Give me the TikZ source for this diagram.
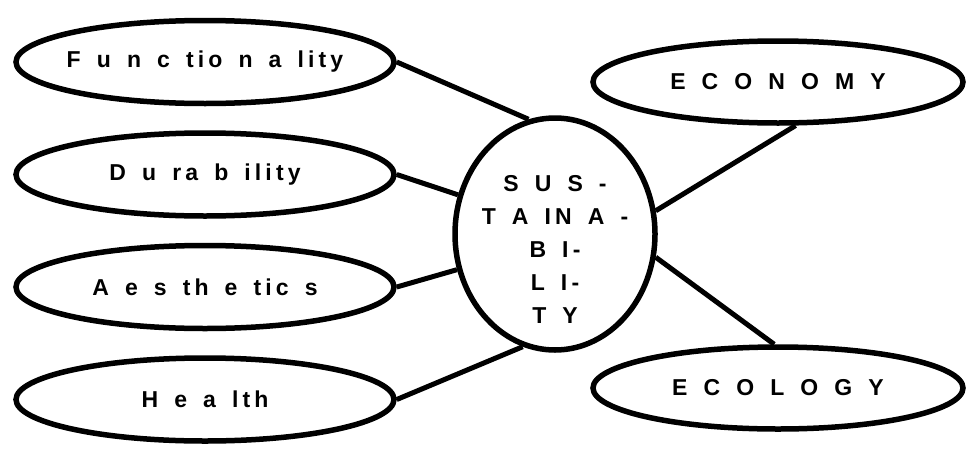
\documentclass[tikz,border=0pt]{standalone}
\usepackage{fontspec}
\setmainfont{Liberation Sans}
\newfontfamily\spacedfont{Liberation Sans}[LetterSpace=18]
\usetikzlibrary{shapes.geometric, positioning}
\newcommand{\lbl}{\spacedfont\bfseries\fontsize{23}{33}\selectfont\spaceskip=0.7em\relax}
\newcommand{\nowidth}[1]{\makebox[0pt]{#1}}
\tikzstyle{aspect} = [ellipse, draw=black, line width=5.5pt, inner sep=0pt, minimum width=378pt, minimum height=83pt, font=\lbl]
\tikzstyle{pillar} = [ellipse, draw=black, line width=5.5pt, inner sep=0pt, minimum width=370pt, minimum height=82pt, font=\lbl]
\tikzstyle{core} = [ellipse, draw=black, line width=5.5pt, inner sep=0pt, minimum width=200pt, minimum height=232pt, font=\lbl]
\tikzstyle{link} = [line width=5pt]

\begin{document}
\begin{tikzpicture}[x=1pt, y=1pt]
    \useasboundingbox (0,0) rectangle (968,-450);

    % Aspects (left column)
    \node (func) [aspect] at (205,-62) {\nowidth{F u n c tio n a lity}};
    \node (dura) [aspect, below=24pt of func] {\nowidth{D u ra b ility}};
    \node (aest) [aspect, below=24pt of dura] {\nowidth{A e s th e tic s}};
    \node (heal) [aspect, below=24pt of aest] {\nowidth{H e a lth}};

    % Sustainability (centre)
    \node (sust) [core] at (555,-234) {\nowidth{\raisebox{-23pt}[0pt][0pt]{\begin{tabular}{@{}c@{}}S U S -\\T A IN A -\\B I-\\L I-\\T Y\end{tabular}}}};

    % Pillars (right column)
    \node (econ) [pillar] at (778,-82) {\nowidth{E C O N O M Y}};
    \node (ecol) [pillar] at (778,-388) {\nowidth{E C O L O G Y}};

    % Links
    \draw [link] (func.east) -- (sust.103);
    \draw [link] (dura.east) -- (sust.158);
    \draw [link] (aest.east) -- (sust.200);
    \draw [link] (heal.east) -- (sust.254);
    \draw [link] (sust.13) -- (econ.292);
    \draw [link] (sust.347) -- (ecol.95);

\end{tikzpicture}
\end{document}
